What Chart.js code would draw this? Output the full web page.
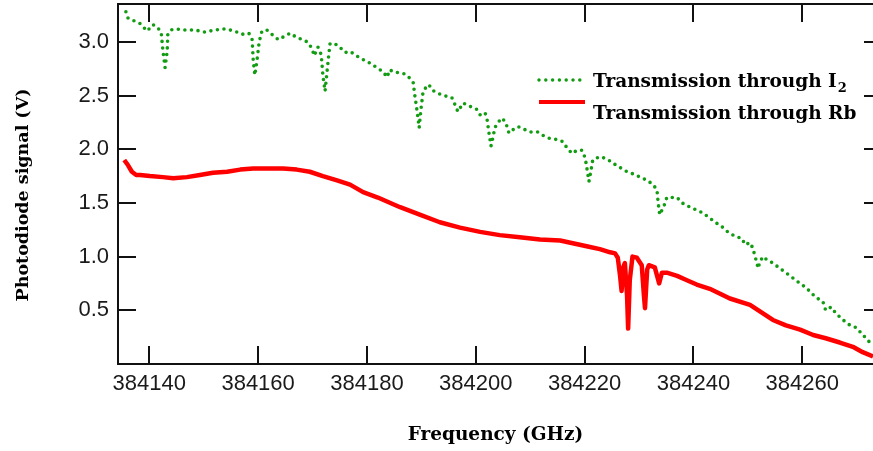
<!DOCTYPE html>
<html>
<head>
<meta charset="utf-8">
<script src="https://cdn.jsdelivr.net/npm/chart.js@4.4.1/dist/chart.umd.min.js"></script>
<style>
html,body{margin:0;padding:0;background:#fff;overflow:hidden;}
#wrap{width:873px;height:451px;}
</style>
</head>
<body>
<div id="wrap"><canvas id="c" width="873" height="451"></canvas></div>
<script>
// ---- data (frequency in GHz, photodiode signal in V) ----
const i2Freq = [384135.7,384136.1,384137.0,384138.3,384139.6,384140.7,384141.6,384142.2,384142.5,384142.9,384143.3,384143.4,384144.0,384144.9,384146.6,384148.4,384150.2,384152.1,384153.9,384155.7,384157.0,384158.3,384158.9,384159.1,384159.4,384159.8,384160.2,384160.7,384161.6,384162.5,384163.7,384164.8,384165.9,384167.1,384168.2,384169.0,384169.9,384170.3,384171.0,384171.6,384171.9,384172.3,384172.7,384173.2,384173.9,384175.0,384176.0,384176.9,384178.7,384180.6,384182.4,384183.0,384183.7,384184.2,384184.8,384186.1,384187.0,384187.9,384188.5,384188.8,384189.2,384189.6,384189.9,384190.3,384191.0,384191.4,384192.0,384193.1,384194.0,384194.9,384195.6,384196.4,384196.7,384197.7,384198.9,384200.2,384200.8,384201.7,384202.1,384202.4,384202.8,384203.2,384203.5,384204.1,384204.8,384205.5,384206.1,384206.8,384207.8,384208.7,384210.0,384211.4,384212.3,384213.6,384214.9,384216.0,384216.8,384217.7,384218.6,384219.5,384220.1,384220.4,384220.8,384221.2,384221.5,384222.8,384224.1,384225.2,384226.5,384227.8,384228.9,384230.2,384231.5,384232.6,384233.3,384233.5,384233.8,384234.4,384234.8,384235.1,384236.1,384237.0,384237.9,384239.0,384240.3,384241.6,384242.7,384244.0,384245.2,384246.3,384247.6,384248.9,384249.5,384250.4,384250.9,384251.5,384251.9,384252.2,384252.8,384253.5,384254.6,384255.9,384257.0,384258.3,384259.6,384260.7,384262.5,384263.8,384264.3,384265.3,384266.2,384267.5,384268.8,384269.9,384270.8,384271.7,384272.8];
const i2Signal = [3.28,3.22,3.20,3.17,3.10,3.16,3.13,3.08,2.92,2.76,2.92,3.07,3.11,3.12,3.11,3.11,3.09,3.11,3.12,3.10,3.07,3.08,3.02,2.83,2.69,2.83,3.00,3.10,3.11,3.07,3.02,3.05,3.08,3.04,3.02,3.00,2.94,2.87,2.95,2.88,2.69,2.54,2.74,2.98,2.99,2.95,2.90,2.91,2.85,2.80,2.74,2.72,2.67,2.74,2.72,2.71,2.70,2.66,2.62,2.50,2.36,2.20,2.36,2.53,2.59,2.60,2.55,2.52,2.50,2.49,2.48,2.39,2.35,2.43,2.40,2.37,2.32,2.34,2.27,2.16,2.03,2.12,2.20,2.25,2.29,2.25,2.15,2.18,2.21,2.19,2.16,2.16,2.13,2.10,2.09,2.07,2.01,1.96,1.99,1.99,1.92,1.83,1.70,1.81,1.90,1.93,1.91,1.87,1.83,1.79,1.77,1.74,1.71,1.67,1.62,1.51,1.39,1.45,1.50,1.55,1.55,1.55,1.50,1.47,1.44,1.41,1.37,1.32,1.28,1.23,1.19,1.17,1.11,1.13,1.08,0.97,0.89,0.95,1.00,0.97,0.94,0.89,0.85,0.80,0.75,0.71,0.62,0.58,0.50,0.53,0.47,0.41,0.36,0.34,0.29,0.24,0.18];

const rbFreq = [384135.4,384136.1,384136.8,384137.6,384138.3,384140.1,384142.5,384144.4,384146.9,384149.3,384151.7,384154.3,384156.7,384159.1,384162.2,384164.6,384167.1,384169.5,384171.9,384174.5,384176.9,384179.3,384182.0,384186.1,384189.7,384193.4,384197.1,384200.8,384204.4,384208.1,384211.8,384215.5,384219.1,384221.0,384222.8,384224.7,384225.6,384226.1,384226.5,384226.8,384227.1,384227.4,384227.8,384228.0,384228.3,384228.8,384229.6,384230.5,384230.9,384231.1,384231.5,384231.8,384232.9,384233.7,384234.2,384235.1,384237.0,384238.8,384240.6,384243.0,384246.7,384250.4,384254.6,384257.0,384259.6,384262.0,384264.3,384266.9,384269.3,384271.1,384273.0];
const rbSignal = [1.90,1.85,1.79,1.76,1.76,1.75,1.74,1.73,1.74,1.76,1.78,1.79,1.81,1.82,1.82,1.82,1.81,1.79,1.75,1.71,1.67,1.60,1.55,1.46,1.39,1.32,1.27,1.23,1.20,1.18,1.16,1.15,1.11,1.09,1.07,1.04,1.03,0.99,0.83,0.68,0.90,0.94,0.64,0.33,0.78,1.00,0.99,0.92,0.64,0.52,0.88,0.92,0.90,0.75,0.85,0.85,0.82,0.78,0.74,0.70,0.61,0.55,0.41,0.36,0.32,0.27,0.24,0.20,0.16,0.11,0.07];

const xTickValues = [384140,384160,384180,384200,384220,384240,384260];
const yTickValues = [0.5,1.0,1.5,2.0,2.5,3.0];
const legendLabels = ["Transmission through I", "Transmission through Rb"];
const legendSub = ["2", ""];
const xTitle = "Frequency (GHz)";
const yTitle = "Photodiode signal (V)";

const GREEN = '#129c12';
const RED = '#ff0000';
const AXIS = '#111';
const SERIF = '"DejaVu Serif"';

const toXY = (xs, ys) => xs.map((x, i) => ({x: x, y: ys[i]}));

const frame = {
  id: 'frame',
  afterDraw(chart) {
    const {ctx, chartArea: a, scales: {x, y}} = chart;
    ctx.save();
    ctx.strokeStyle = AXIS;
    ctx.lineWidth = 2;
    ctx.lineCap = 'butt';
    ctx.beginPath();
    ctx.moveTo(a.left, a.top - 1); ctx.lineTo(a.left, a.bottom + 1);
    ctx.moveTo(a.left - 1, a.bottom); ctx.lineTo(a.right + 10, a.bottom);
    ctx.moveTo(a.left - 1, a.top); ctx.lineTo(a.right + 10, a.top);
    xTickValues.forEach(v => {
      const px = Math.round(x.getPixelForValue(v));
      ctx.moveTo(px, a.bottom); ctx.lineTo(px, a.bottom - 18);
      ctx.moveTo(px, a.top); ctx.lineTo(px, a.top + 18);
    });
    yTickValues.forEach(v => {
      const py = Math.round(y.getPixelForValue(v));
      ctx.moveTo(a.left, py); ctx.lineTo(a.left + 18, py);
      ctx.moveTo(a.right - 9, py); ctx.lineTo(a.right + 10, py);
    });
    ctx.stroke();
    // y axis title
    ctx.fillStyle = '#000';
    ctx.font = 'bold 17.5px ' + SERIF;
    ctx.textAlign = 'center';
    ctx.textBaseline = 'middle';
    ctx.translate(23, 195);
    ctx.rotate(-Math.PI / 2);
    ctx.fillText(yTitle, 0, 0);
    ctx.restore();
  }
};

const legendPlugin = {
  id: 'customLegend',
  afterDraw(chart) {
    const ctx = chart.ctx;
    ctx.save();
    const lx0 = 539, lx1 = 584, tx = 593;
    const rows = [{y: 80, base: 87}, {y: 102, base: 119}];
    ctx.strokeStyle = GREEN; ctx.lineWidth = 3.5; ctx.lineCap = 'round';
    ctx.setLineDash([0, 6.8]);
    ctx.beginPath(); ctx.moveTo(lx0, rows[0].y); ctx.lineTo(lx1, rows[0].y); ctx.stroke();
    ctx.setLineDash([]); ctx.lineCap = 'butt';
    ctx.strokeStyle = RED; ctx.lineWidth = 4;
    ctx.beginPath(); ctx.moveTo(lx0, rows[1].y); ctx.lineTo(lx1 + 1, rows[1].y); ctx.stroke();
    ctx.fillStyle = '#000';
    ctx.textBaseline = 'alphabetic'; ctx.textAlign = 'left';
    legendLabels.forEach((t, i) => {
      ctx.font = 'bold 18.5px ' + SERIF;
      ctx.fillText(t, tx, rows[i].base);
      if (legendSub[i]) {
        const w = ctx.measureText(t).width;
        ctx.font = 'bold 13px ' + SERIF;
        ctx.fillText(legendSub[i], tx + w + 1, rows[i].base + 5);
      }
    });
    ctx.restore();
  }
};

new Chart(document.getElementById('c'), {
  type: 'line',
  data: {
    datasets: [
      {
        label: 'Transmission through I2',
        data: toXY(i2Freq, i2Signal),
        borderColor: GREEN,
        borderWidth: 3.6,
        borderDash: [0, 6.6],
        borderCapStyle: 'round',
        pointRadius: 0,
        tension: 0,
        fill: false
      },
      {
        label: 'Transmission through Rb',
        data: toXY(rbFreq, rbSignal),
        borderColor: RED,
        borderWidth: 4.5,
        borderJoinStyle: 'round',
        pointRadius: 0,
        tension: 0,
        fill: false
      }
    ]
  },
  options: {
    responsive: false,
    animation: false,
    devicePixelRatio: 1,
    layout: {padding: {left: 0, right: 0, top: 4, bottom: 0}},
    plugins: {legend: {display: false}, tooltip: {enabled: false}},
    scales: {
      x: {
        type: 'linear',
        min: 384134.25,
        max: 384273.0,
        afterFit(s) { s.height = 87; s.paddingLeft = 0; s.paddingRight = 0; },
        afterBuildTicks(s) { s.ticks = xTickValues.map(v => ({value: v})); },
        grid: {display: false, drawTicks: false},
        border: {display: false},
        ticks: {
          color: '#1a1a1a',
          font: {family: '"Liberation Sans"', size: 22},
          padding: 7,
          maxRotation: 0,
          autoSkip: false,
          callback: v => String(v)
        },
        title: {
          display: true,
          text: xTitle,
          color: '#000',
          font: {family: SERIF, size: 18.5, weight: 'bold'},
          padding: {top: 0, bottom: 5}
        }
      },
      y: {
        type: 'linear',
        min: 0,
        max: 3.352,
        afterFit(s) { s.width = 118; s.paddingTop = 0; s.paddingBottom = 0; },
        afterBuildTicks(s) { s.ticks = yTickValues.map(v => ({value: v})); },
        grid: {display: false, drawTicks: false},
        border: {display: false},
        ticks: {
          color: '#1a1a1a',
          font: {family: '"Liberation Sans"', size: 22},
          padding: 9,
          autoSkip: false,
          callback: v => v.toFixed(1)
        },
        title: {display: false}
      }
    }
  },
  plugins: [frame, legendPlugin]
});
</script>
</body>
</html>
